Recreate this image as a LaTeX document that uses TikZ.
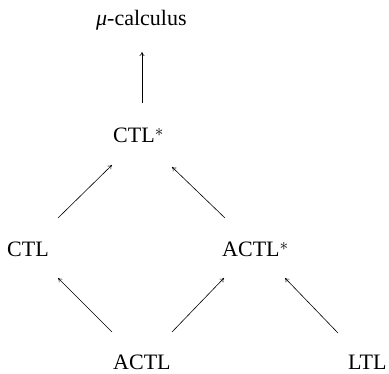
\documentclass[tikz,border=0pt]{standalone}
\usepackage{fontspec}
\setmainfont{Liberation Serif}
\usetikzlibrary{arrows.meta}
\newcommand{\bigstar}{{\fontsize{18.5}{18.5}\selectfont\raisebox{6pt}{$\ast$}}}
\begin{document}
\begin{tikzpicture}[x=1pt,y=1pt,
  lbl/.style={anchor=base west,inner sep=0pt,font=\fontsize{22}{26}\selectfont},
  conn/.style={line width=0.6pt,-{To[length=4pt,width=5pt]}}]
\useasboundingbox (0,0) rectangle (389,373);
\node[lbl] (mu) at (96,347) {\textit{μ}-calculus};
\node[lbl] (ctls) at (113,230) {CTL\bigstar};
\node[lbl] (ctl) at (7,117) {CTL};
\node[lbl] (actls) at (222,117) {ACTL\bigstar};
\node[lbl] (actl) at (113,4) {ACTL};
\node[lbl] (ltl) at (348,4) {LTL};
\draw[conn] ([shift={(29,40)}]ctls.base west) -- ([shift={(46,-26)}]mu.base west);
\draw[conn] ([shift={(51,38)}]ctl.base west) -- ([shift={(-1,-22)}]ctls.base west);
\draw[conn] ([shift={(3,38)}]actls.base west) -- ([shift={(59,-24)}]ctls.base west);
\draw[conn] ([shift={(-1,37)}]actl.base west) -- ([shift={(51,-22)}]ctl.base west);
\draw[conn] ([shift={(59,37)}]actl.base west) -- ([shift={(2,-22)}]actls.base west);
\draw[conn] ([shift={(-10,36)}]ltl.base west) -- ([shift={(63,-22)}]actls.base west);
\end{tikzpicture}
\end{document}
